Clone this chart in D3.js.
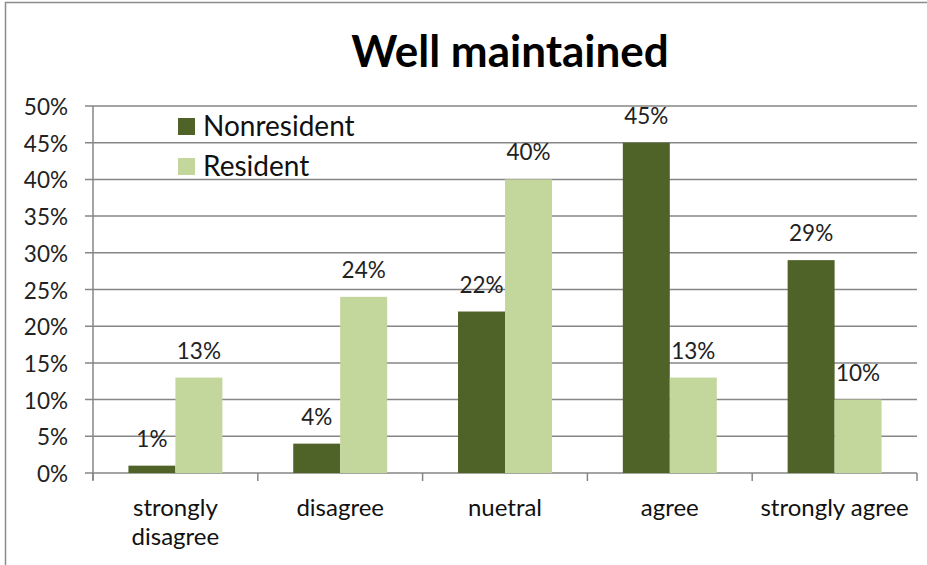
<!DOCTYPE html>
<html>
<head>
<meta charset="utf-8">
<script src="https://cdn.jsdelivr.net/npm/d3@7"></script>
<style>
  body { margin: 0; background: #fff; }
  svg { display: block; font-family: Lato, "Open Sans", sans-serif; }
</style>
</head>
<body>
<svg width="927" height="565"></svg>
<script>
const categories = [['strongly', 'disagree'], ['disagree'], ['nuetral'], ['agree'], ['strongly agree']];
const seriesNames = ['Nonresident', 'Resident'];
const nonresident = [1, 4, 22, 45, 29];
const resident = [13, 24, 40, 13, 10];
const yTicks = [0, 5, 10, 15, 20, 25, 30, 35, 40, 45, 50];
const seriesValues = [nonresident, resident];
const colors = ['#4f6228', '#c3d69b'];

const svg = d3.select('svg');
const catKeys = categories.map(c => c.join(' '));

const plotLeft = 93, plotRight = 917, plotTop = 106, plotBottom = 473;

const x0 = d3.scaleBand().domain(catKeys).range([plotLeft, plotRight]).paddingInner(0.43).paddingOuter(0.215);
const x1 = d3.scaleBand().domain(seriesNames).range([0, x0.bandwidth()]);
const y = d3.scaleLinear().domain([0, 50]).range([plotBottom, plotTop]);

// chart border
svg.append('path')
   .attr('d', `M5.5,565 V2.5 H927`)
   .attr('fill', 'none')
   .attr('stroke', '#8c8c8c')
   .attr('stroke-width', 1.5);

// title
svg.append('text')
   .attr('x', 510).attr('y', 67)
   .attr('text-anchor', 'middle')
   .attr('font-size', 44).attr('font-weight', 'bold')
   .attr('fill', '#000')
   .text('Well maintained');

// gridlines + y ticks
const yAxis = svg.append('g').attr('class', 'y-axis');
yAxis.selectAll('line')
     .data(yTicks)
     .enter().append('line')
     .attr('x1', 85).attr('x2', plotRight)
     .attr('y1', d => y(d)).attr('y2', d => y(d))
     .attr('stroke', '#868686').attr('stroke-width', 1.5);

yAxis.selectAll('text')
     .data(yTicks)
     .enter().append('text')
     .attr('x', 68).attr('y', d => y(d) + 9)
     .attr('text-anchor', 'end')
     .attr('font-size', 22.5).attr('fill', '#222')
     .text(d => d + '%');

svg.append('line')
   .attr('x1', plotLeft).attr('x2', plotLeft)
   .attr('y1', plotTop).attr('y2', plotBottom + 7)
   .attr('stroke', '#868686').attr('stroke-width', 1.5);

// x category ticks
const step = x0.step();
const boundaries = d3.range(catKeys.length + 1).map(i => plotLeft + i * step);
svg.append('g').selectAll('line')
   .data(boundaries)
   .enter().append('line')
   .attr('x1', d => d).attr('x2', d => d)
   .attr('y1', plotBottom).attr('y2', plotBottom + 8)
   .attr('stroke', '#868686').attr('stroke-width', 1.5);

// bars, series by series so resident covers nonresident labels
seriesNames.forEach((name, si) => {
    const g = svg.append('g').attr('class', 'series');
    const data = catKeys.map((c, i) => ({ cat: c, value: seriesValues[si][i] }));

    g.selectAll('rect')
     .data(data)
     .enter().append('rect')
     .attr('x', d => x0(d.cat) + x1(name))
     .attr('y', d => y(d.value))
     .attr('width', x1.bandwidth())
     .attr('height', d => plotBottom - y(d.value))
     .attr('fill', colors[si]);

    g.selectAll('text')
     .data(data)
     .enter().append('text')
     .attr('x', d => x0(d.cat) + x1(name) + x1.bandwidth() / 2)
     .attr('y', d => y(d.value) - 19)
     .attr('text-anchor', 'middle')
     .attr('font-size', 22.5).attr('fill', '#222')
     .text(d => d.value + '%');
});

// x labels
const xl = svg.append('g').selectAll('text')
   .data(categories)
   .enter().append('text')
   .attr('x', (d, i) => x0(catKeys[i]) + x0.bandwidth() / 2)
   .attr('y', 516)
   .attr('text-anchor', 'middle')
   .attr('font-size', 24).attr('fill', '#111');
xl.selectAll('tspan')
  .data(d => d)
  .enter().append('tspan')
  .attr('x', function() { return d3.select(this.parentNode).attr('x'); })
  .attr('dy', (d, i) => i === 0 ? 0 : 29)
  .text(d => d);

// legend
const legend = svg.append('g').selectAll('g')
   .data(seriesNames)
   .enter().append('g')
   .attr('transform', (d, i) => `translate(178,${118 + i * 40})`);
legend.append('rect')
      .attr('width', 17).attr('height', 17)
      .attr('fill', (d, i) => colors[i]);
legend.append('text')
      .attr('x', 25).attr('y', 18)
      .attr('font-size', 28).attr('fill', '#111')
      .text(d => d);
</script>
</body>
</html>
